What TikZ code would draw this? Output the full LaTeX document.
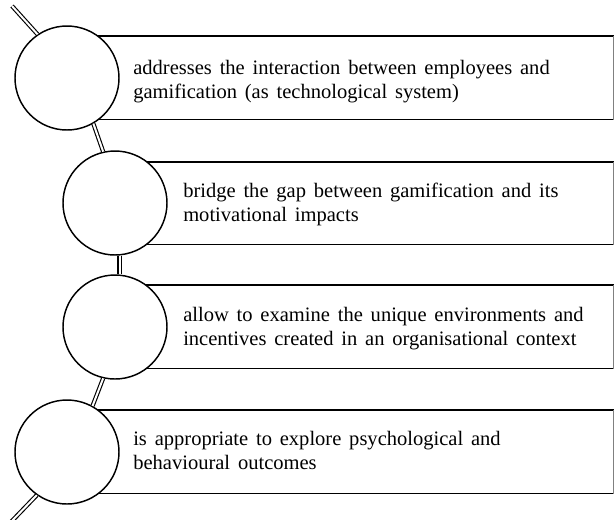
\documentclass[tikz,border=0pt]{standalone}
\usepackage{fontspec}
\setmainfont{Liberation Serif}
\newcommand\loosewords{\spaceskip=0.38em plus 0.1em\relax}
\begin{document}
\begin{tikzpicture}[x=0.75pt,y=-0.75pt,
    bubble/.style={circle,draw,line width=1.1pt,fill=white,minimum size=78pt,inner sep=0pt},
    panel/.style={rectangle,inner sep=0pt,anchor=north west},
    link/.style={double,line width=0.85pt,double distance=1.5pt},
    rule/.style={line width=1.3pt},
    blurb/.style={anchor=base west,align=left,inner sep=0pt,
      font=\fontsize{15.4}{18}\selectfont,execute at begin node=\loosewords}]
  \useasboundingbox (0,0) rectangle (614,519);
  % panels
  \node[panel,minimum width=409.5pt,minimum height=62.25pt] (b1) at (67,36) {};
  \node[panel,minimum width=373.5pt,minimum height=61.5pt] (b2) at (115,162) {};
  \node[panel,minimum width=373.5pt,minimum height=62.25pt] (b3) at (115,285) {};
  \node[panel,minimum width=409.5pt,minimum height=62.25pt] (b4) at (67,410) {};
  \foreach \b in {b1,b2,b3,b4} {
    \draw[rule] (\b.north west) -- (\b.north east);
    \draw[rule] (\b.south west) -- (\b.south east);
    \draw[gray,line width=0.5pt] (\b.north east) -- (\b.south east);
  }
  % texts (base is the last line)
  \node[blurb] (t1) at (133,98) {addresses the interaction between employees and\\gamification (as technological system)};
  \node[blurb] (t2) at (183,221) {bridge the gap between gamification and its\\motivational impacts};
  \node[blurb] (t3) at (183,345) {allow to examine the unique environments and\\incentives created in an organisational context};
  \node[blurb] (t4) at (133,469) {is appropriate to explore psychological and\\behavioural outcomes};
  % circles
  \node[bubble] (c1) at (67,78) {};
  \node[bubble] (c2) at (115,203) {};
  \node[bubble] (c3) at (115,327) {};
  \node[bubble] (c4) at (67,452) {};
  % chain
  \coordinate (top) at (12,6);
  \coordinate (bottom) at (10,523);
  \draw[link] (top) -- (c1.124);
  \draw[link] (c1.-60) -- (c2.103);
  \draw[link] (c2.-85) -- (c3.85);
  \draw[link] (c3.-103) -- (c4.61);
  \draw[link] (c4.-125) -- (bottom);
\end{tikzpicture}
\end{document}
